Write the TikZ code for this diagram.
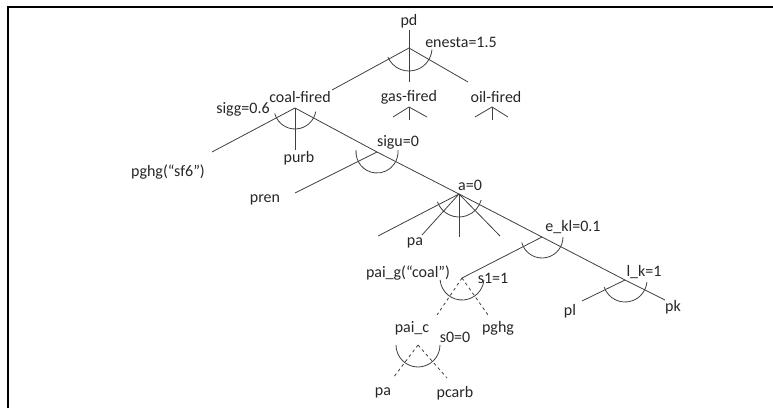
\documentclass[tikz,border=0pt]{standalone}
\usepackage{fontspec}
\setmainfont{Carlito}
\begin{document}
\begin{tikzpicture}[x=1pt,y=1pt,
  lab/.style={inner sep=0pt,text=black!85,font=\fontsize{16}{19}\selectfont},
  ln/.style={draw=black!75,line width=0.8pt},
  dln/.style={ln,dash pattern=on 3pt off 3pt},
  frame/.style={draw=black,line width=2pt}]
\useasboundingbox (0,0) rectangle (773,408);
\draw[frame] (8,0) -- (8,401) -- (773,401);
% texts
\node[lab] (pd) at (409,387) {pd};
\node[lab] (enesta) at (461,366) {enesta=1.5};
\node[lab] (coal) at (300,311) {coal-fired};
\node[lab] (gas) at (409,311) {gas-fired};
\node[lab] (oil) at (496,311) {oil-fired};
\node[lab] (sigg) at (243,299) {sigg=0.6};
\node[lab] (purb) at (299,250) {purb};
\node[lab] (sf6) at (168,236) {pghg(“sf6”)};
\node[lab] (sigu) at (398,266) {sigu=0};
\node[lab] (pren) at (265,208) {pren};
\node[lab] (a0) at (470,223) {a=0};
\node[lab] (pa1) at (415,165) {pa};
\node[lab] (ekl) at (573,181) {e\_kl=0.1};
\node[lab] (paig) at (408,135) {pai\_g(“coal”)};
\node[lab] (s1) at (493,130) {s1=1};
\node[lab] (pghg) at (498,80) {pghg};
\node[lab] (paic) at (412,80) {pai\_c};
\node[lab] (s0) at (455,71) {s0=0};
\node[lab] (pa2) at (383,15) {pa};
\node[lab] (pcarb) at (455,15) {pcarb};
\node[lab] (lk) at (644,136) {l\_k=1};
\node[lab] (pl) at (570,97) {pl};
\node[lab] (pk) at (673,101) {pk};
% junctions and ends
\coordinate (R) at (409,360);
\coordinate (Rt) at (409,378);
\coordinate (Rb) at (409,326);
\coordinate (Rc) at (332,318);
\coordinate (Ro) at (468,326);
\coordinate (GA) at (409,301);
\coordinate (GAl) at (393,291);
\coordinate (GAr) at (427,291);
\coordinate (GAb) at (409,288);
\coordinate (OA) at (492,301);
\coordinate (OAl) at (475,291);
\coordinate (OAr) at (508,291);
\coordinate (OAb) at (492,288);
\coordinate (C) at (295,300);
\coordinate (Cl) at (212,256);
\coordinate (Cb) at (295,258);
\coordinate (S) at (377,256);
\coordinate (Sl) at (295,215);
\coordinate (A) at (459,214);
\coordinate (A1) at (378,172);
\coordinate (A2) at (422,173);
\coordinate (A3) at (459,171);
\coordinate (A4) at (500,172);
\coordinate (E) at (542,171);
\coordinate (G) at (462,130);
\coordinate (G1) at (437,93);
\coordinate (G2) at (488,93);
\coordinate (P) at (418,63);
\coordinate (P1) at (393,30);
\coordinate (P2) at (447,30);
\coordinate (L) at (625,128);
\coordinate (Lk) at (665,108);
\coordinate (Ll) at (582,107);
% connectors
\draw[ln] (Rt) -- (Rb);
\draw[ln] (R) -- (Rc);
\draw[ln] (R) -- (Ro);
\draw[ln] (GAl) -- (GA) -- (GAr);
\draw[ln] (GA) -- (GAb);
\draw[ln] (OAl) -- (OA) -- (OAr);
\draw[ln] (OA) -- (OAb);
\draw[ln] (C) -- (Cl);
\draw[ln] (C) -- (Cb);
\draw[ln] (C) -- (S) -- (A) -- (E) -- (L) -- (Lk);
\draw[ln] (S) -- (Sl);
\draw[ln] (A) -- (A1);
\draw[ln] (A) -- (A2);
\draw[ln] (A) -- (A3);
\draw[ln] (A) -- (A4);
\draw[ln] (E) -- (G);
\draw[dln] (G) -- (G1);
\draw[dln] (G) -- (G2);
\draw[dln] (P) -- (P1);
\draw[dln] (P) -- (P2);
\draw[ln] (L) -- (Ll);
% arcs
\draw[ln] (R) ++(203:23) arc[start angle=203,end angle=356,radius=23];
\draw[ln] (C) ++(195:21) arc[start angle=195,end angle=350,radius=21];
\draw[ln] (S) ++(175:21) arc[start angle=175,end angle=365,radius=21];
\draw[ln] (A) ++(200:23) arc[start angle=200,end angle=345,radius=23];
\draw[ln] (E) ++(195:21) arc[start angle=195,end angle=360,radius=21];
\draw[ln] (G) ++(185:22) arc[start angle=185,end angle=355,radius=22];
\draw[ln] (P) ++(180:22) arc[start angle=180,end angle=360,radius=22];
\draw[ln] (L) ++(199:22) arc[start angle=199,end angle=354,radius=22];
\end{tikzpicture}
\end{document}
